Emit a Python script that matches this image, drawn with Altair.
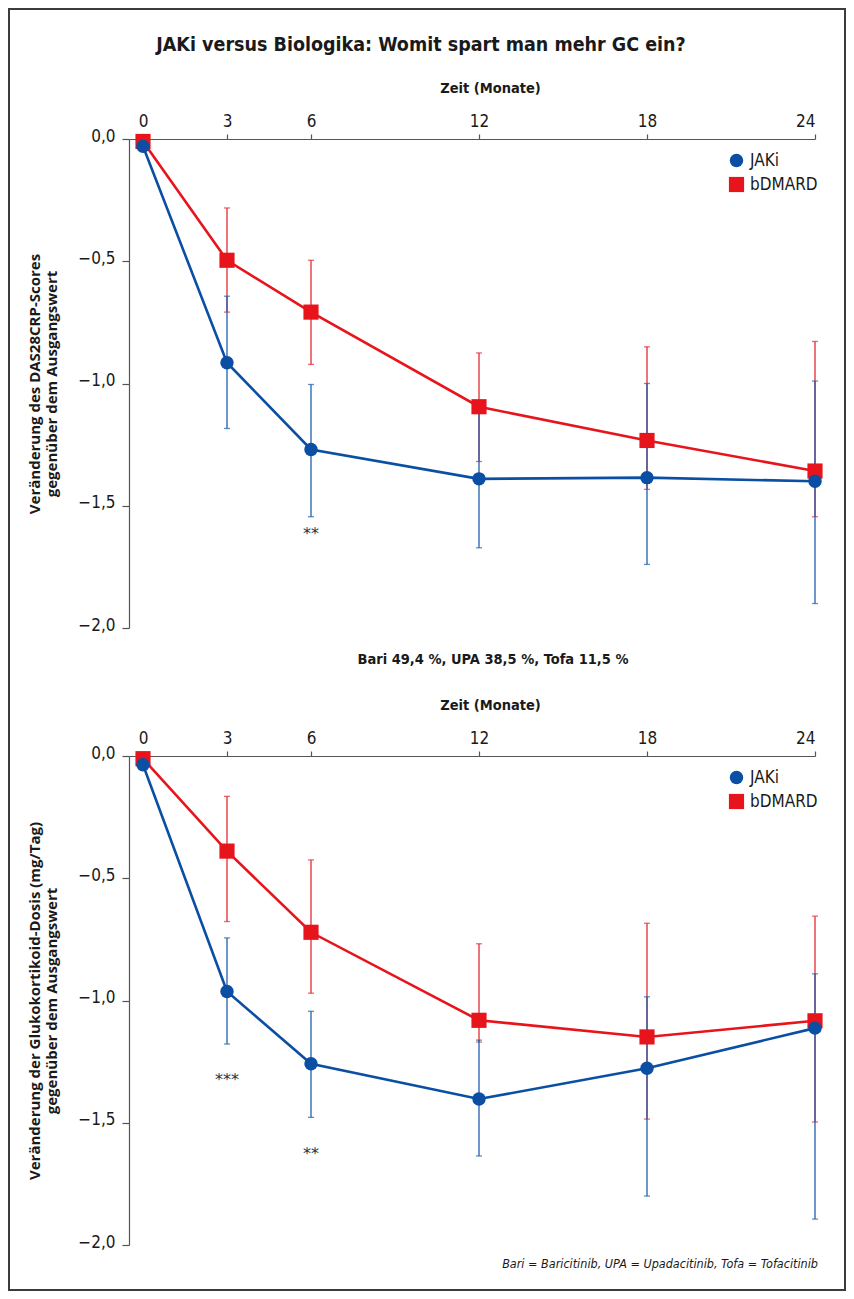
import altair as alt
import pandas as pd

# ---------------- data ----------------
months = [0, 3, 6, 12, 18, 24]
groups = ["JAKi", "bDMARD"]

# Panel 1: change in DAS28CRP score
das_jaki = [-0.03, -0.915, -1.27, -1.39, -1.385, -1.40]
das_jaki_hi = [None, -0.643, -1.004, -1.104, -1.00, -0.99]
das_jaki_lo = [None, -1.184, -1.545, -1.672, -1.74, -1.90]
das_bdmard = [-0.01, -0.496, -0.708, -1.095, -1.233, -1.358]
das_bdmard_hi = [None, -0.282, -0.496, -0.875, -0.85, -0.828]
das_bdmard_lo = [None, -0.708, -0.922, -1.319, -1.433, -1.545]

# Panel 2: change in glucocorticoid dose (mg/day)
gc_jaki = [-0.036, -0.963, -1.259, -1.403, -1.277, -1.113]
gc_jaki_hi = [None, -0.744, -1.044, -1.162, -0.985, -0.891]
gc_jaki_lo = [None, -1.178, -1.478, -1.636, -1.80, -1.894]
gc_bdmard = [-0.011, -0.389, -0.721, -1.081, -1.149, -1.083]
gc_bdmard_hi = [None, -0.165, -0.425, -0.768, -0.684, -0.655]
gc_bdmard_lo = [None, -0.677, -0.970, -1.170, -1.485, -1.497]

# significance markers
sig1_month = [6]
sig1_value = [-1.60]
sig1_text = ["**"]
sig2_month = [3, 6]
sig2_value = [-1.31, -1.61]
sig2_text = ["***", "**"]

y_ticks = [0.0, -0.5, -1.0, -1.5, -2.0]

TITLE = "JAKi versus Biologika: Womit spart man mehr GC ein?"
SUBTITLE = "Bari 49,4 %, UPA 38,5 %, Tofa 11,5 %"
FOOTNOTE = "Bari = Baricitinib, UPA = Upadacitinib, Tofa = Tofacitinib"
X_TITLE = "Zeit (Monate)"
Y1_TITLE = ["Veränderung des DAS28CRP-Scores", "gegenüber dem Ausgangswert"]
Y2_TITLE = ["Veränderung der Glukokortikoid-Dosis (mg/Tag)", "gegenüber dem Ausgangswert"]

# ---------------- style ----------------
BLUE = "#0a4fa3"
BLUE_BAR = "#1f5fae"
RED = "#e8141c"
RED_BAR = "#e42a30"
AXIS_GRAY = "#555555"
TXT = "#1a1a1a"
COND = "Liberation Sans Narrow, DejaVu Sans Condensed, Roboto Condensed, Roboto, sans-serif"
TFONT = "Open Sans, Roboto, sans-serif"

W, H = 686, 489


def frame(group, vals, hi, lo):
    return pd.DataFrame({"month": months, "value": vals, "hi": hi, "lo": lo,
                         "group": [group] * len(months)})


def panel(jaki, jaki_hi, jaki_lo, bd, bd_hi, bd_lo, y_title,
          sig_m, sig_v, sig_t, extras):
    dj = frame("JAKi", jaki, jaki_hi, jaki_lo)
    db = frame("bDMARD", bd, bd_hi, bd_lo)
    both = pd.concat([db, dj], ignore_index=True)

    x = alt.X("month:Q",
              scale=alt.Scale(domain=[-0.5, 24], nice=False, zero=False),
              axis=alt.Axis(orient="top", values=months, title=X_TITLE,
                            grid=False, format="d",
                            labelFont=COND, labelFontSize=17, labelColor=TXT,
                            labelPadding=4, tickSize=5, tickColor=AXIS_GRAY,
                            domainColor=AXIS_GRAY, domainWidth=1.2, tickWidth=1.2,
                            titleFont=COND, titleFontSize=14.5, titleFontWeight="bold",
                            titleColor=TXT, titleX=361, titleY=-51,
                            titleBaseline="middle", titleAlign="center",
                            titleAnchor="start"))
    yaxis = alt.Axis(values=y_ticks, title=y_title, grid=False, format=".1f",
                     labelExpr="replace(datum.label, '.', ',')",
                     labelFont=COND, labelFontSize=17, labelColor=TXT,
                     labelPadding=7, labelOffset=-3, tickSize=7,
                     tickColor=AXIS_GRAY, domainColor=AXIS_GRAY,
                     domainWidth=1.2, tickWidth=1.2,
                     titleFont=TFONT, titleFontSize=15, titleFontWeight="bold",
                     titleColor=TXT, titleLineHeight=17, titlePadding=18)
    yscale = alt.Scale(domain=[-2, 0], nice=False, zero=False)

    def errbars(df, col):
        d = df.dropna()
        base = alt.Chart(d)
        rule = base.mark_rule(color=col, strokeWidth=1.3).encode(
            x=x, y=alt.Y("lo:Q", scale=yscale, axis=yaxis), y2="hi:Q")
        cap_lo = base.mark_tick(color=col, orient="horizontal", size=6,
                                thickness=1.3).encode(
            x=x, y=alt.Y("lo:Q", scale=yscale, axis=yaxis))
        cap_hi = base.mark_tick(color=col, orient="horizontal", size=6,
                                thickness=1.3).encode(
            x=x, y=alt.Y("hi:Q", scale=yscale, axis=yaxis))
        return [rule, cap_lo, cap_hi]

    def line(df, col):
        return alt.Chart(df).mark_line(color=col, strokeWidth=2.6).encode(
            x=x, y=alt.Y("value:Q", scale=yscale, axis=yaxis))

    legend = alt.Legend(title=None, orient="none", legendX=599, legendY=13,
                        labelFont=COND, labelFontSize=17, labelColor=TXT,
                        symbolSize=150, symbolStrokeWidth=0, rowPadding=6,
                        labelOffset=5, padding=0)
    points = alt.Chart(both).mark_point(filled=True, opacity=1).encode(
        x=x, y=alt.Y("value:Q", scale=yscale, axis=yaxis),
        color=alt.Color("group:N", scale=alt.Scale(domain=groups, range=[BLUE, RED]),
                        legend=legend),
        shape=alt.Shape("group:N", scale=alt.Scale(domain=groups,
                                                    range=["circle", "square"]),
                        legend=legend),
        size=alt.Size("group:N", scale=alt.Scale(domain=groups, range=[180, 230]),
                      legend=None),
    )

    sig = alt.Chart(pd.DataFrame({"month": sig_m, "value": sig_v, "t": sig_t})).mark_text(
        font="DejaVu Sans", fontSize=16, color="#333333", baseline="middle", dy=4
    ).encode(x=x, y=alt.Y("value:Q", scale=yscale, axis=yaxis), text="t:N")

    layers = extras[0] + errbars(db, RED_BAR) + errbars(dj, BLUE_BAR) + [
        line(db, RED), line(dj, BLUE), points, sig] + extras[1]
    return alt.layer(*layers).properties(width=W, height=H)


one = alt.Data(values=[{"k": 1}])

border = alt.Chart(one).mark_rect(fillOpacity=0, stroke="#3c3c3c", strokeWidth=2).encode(
    x=alt.value(-120), x2=alt.value(716), y=alt.value(-130), y2=alt.value(1151))

title_txt = alt.Chart(alt.Data(values=[{"t": TITLE}])).mark_text(
    font=COND, fontSize=19.5, fontWeight="bold", color=TXT, align="center",
    baseline="middle").encode(text="t:N", x=alt.value(292), y=alt.value(-94))

subtitle_txt = alt.Chart(alt.Data(values=[{"t": SUBTITLE}])).mark_text(
    font=COND, fontSize=14.5, fontWeight="bold", color=TXT, align="center",
    baseline="middle").encode(text="t:N", x=alt.value(364), y=alt.value(-96))

foot_txt = alt.Chart(alt.Data(values=[{"t": FOOTNOTE}])).mark_text(
    font=COND, fontSize=12.5, fontStyle="italic", color=TXT, align="right",
    baseline="middle").encode(text="t:N", x=alt.value(689), y=alt.value(508))

p1 = panel(das_jaki, das_jaki_hi, das_jaki_lo, das_bdmard, das_bdmard_hi,
           das_bdmard_lo, Y1_TITLE, sig1_month, sig1_value, sig1_text,
           ([border], [title_txt]))
p2 = panel(gc_jaki, gc_jaki_hi, gc_jaki_lo, gc_bdmard, gc_bdmard_hi,
           gc_bdmard_lo, Y2_TITLE, sig2_month, sig2_value, sig2_text,
           ([], [subtitle_txt, foot_txt]))

chart = alt.vconcat(p1, p2, spacing=128, bounds="flush").resolve_scale(
    y="independent", color="independent", shape="independent", size="independent"
).resolve_legend(color="independent", shape="independent").properties(
    padding=0, background="white"
).configure_view(stroke=None)

chart.save("out.html", embed_options={"renderer": "svg", "actions": False})
